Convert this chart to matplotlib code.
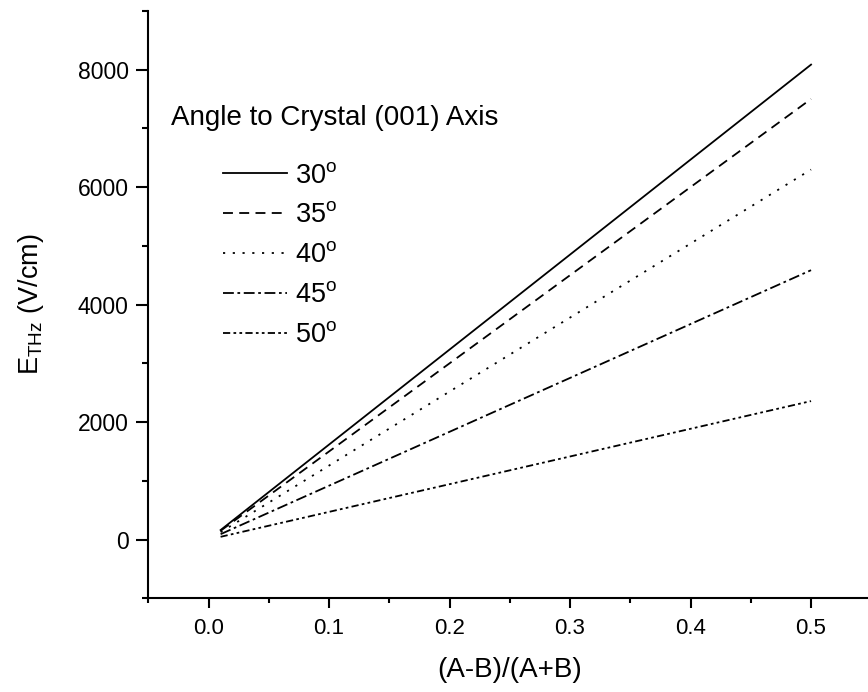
import numpy as np
import matplotlib
matplotlib.use('Agg')
import matplotlib.pyplot as plt

plt.rcParams['font.family'] = ['Liberation Sans', 'DejaVu Sans']
plt.rcParams['mathtext.fontset'] = 'custom'
plt.rcParams['mathtext.rm'] = 'Liberation Sans'
plt.rcParams['mathtext.it'] = 'Liberation Sans:italic'

# datos
x = [0.01, 0.5]
e30 = [162, 8087]
e35 = [150, 7502]
e40 = [126, 6300]
e45 = [92, 4587]
e50 = [47, 2358]
etiquetas = ['30', '35', '40', '45', '50']

estilos = ['-', (0, (5.5, 3.5)), (0, (1.2, 4.2)), (0, (6, 2, 1.5, 2)),
           (0, (4, 1.8, 1.5, 1.8, 1.5, 1.8))]

fig = plt.figure(figsize=(8.68, 6.92), dpi=100)
ax = fig.add_axes([148.3/868, 93.7/692, 723/868, 587.3/692])

for serie, et, ls in zip([e30, e35, e40, e45, e50], etiquetas, estilos):
    ax.plot(x, serie, color='black', lw=1.3, linestyle=ls,
            label=et + r'$^{\mathrm{o}}$')

ax.set_xlim(-0.05, 0.55)
ax.set_ylim(-1000, 9000)
ax.set_xticks([0.0, 0.1, 0.2, 0.3, 0.4, 0.5])
ax.set_xticklabels(['0.0', '0.1', '0.2', '0.3', '0.4', '0.5'])
ax.set_xticks(np.arange(-0.05, 0.55, 0.1), minor=True)
ax.set_yticks([0, 2000, 4000, 6000, 8000])
ax.set_yticks([-1000, 1000, 3000, 5000, 7000, 9000], minor=True)

for lado in ['top', 'right']:
    ax.spines[lado].set_visible(False)
for lado in ['left', 'bottom']:
    ax.spines[lado].set_linewidth(1.5)

ax.tick_params(axis='y', which='major', direction='out', length=8.5, width=1.5,
               labelsize=16.5, pad=5.5)
ax.tick_params(axis='y', which='minor', direction='out', length=4.5, width=1.5)
ax.tick_params(axis='x', which='major', direction='out', length=7, width=1.5,
               labelsize=16, pad=7.5)
ax.tick_params(axis='x', which='minor', direction='out', length=3.5, width=1.5)

ax.set_xlabel('(A-B)/(A+B)', fontsize=20, labelpad=13)
ax.set_ylabel(r'E$_{\mathrm{THz}}$ (V/cm)', fontsize=19.5, labelpad=23)

ax.text(0.032, 0.818, 'Angle to Crystal (001) Axis', transform=ax.transAxes,
        fontsize=20, va='center', ha='left')
ax.legend(loc='upper left', bbox_to_anchor=(0.1033, 0.742), frameon=False,
          fontsize=19.5, handlelength=2.37, handletextpad=0.3,
          labelspacing=0.515, borderpad=0, borderaxespad=0)

plt.savefig('out.png', dpi=100)
